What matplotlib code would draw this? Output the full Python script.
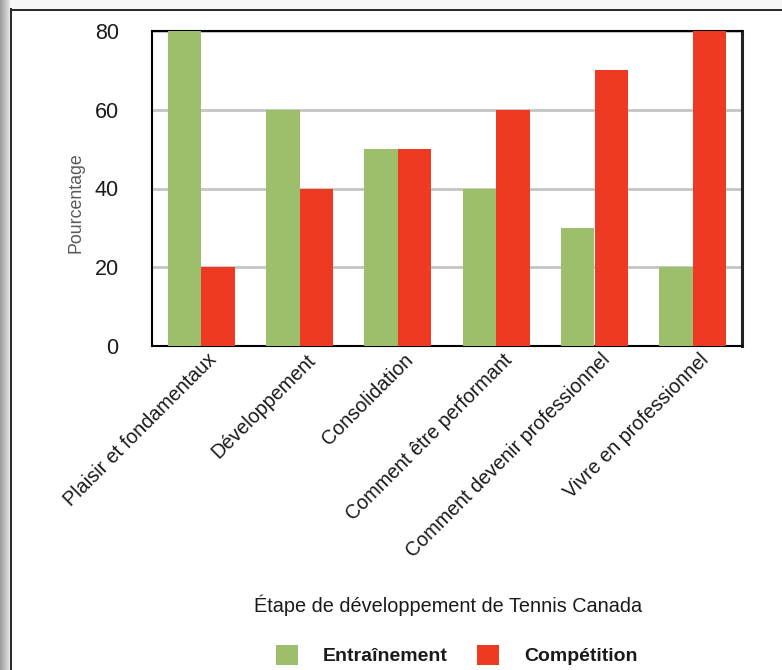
import matplotlib
matplotlib.use("Agg")
import matplotlib.pyplot as plt
import matplotlib.transforms as mtransforms
from matplotlib.patches import Rectangle, Patch
import numpy as np

categories = ["Plaisir et fondamentaux", "Développement", "Consolidation",
              "Comment être performant", "Comment devenir professionnel",
              "Vivre en professionnel"]
entrainement = [80, 60, 50, 40, 30, 20]
competition = [20, 40, 50, 60, 70, 80]
yticks = [0, 20, 40, 60, 80]

green = "#9dbf6b"
red = "#ee3a23"

plt.rcParams['font.family'] = ['Liberation Sans', 'DejaVu Sans']

W, H = 782, 670
fig = plt.figure(figsize=(W/100, H/100), dpi=100)

# outer frame decorations
fig.patches.append(Rectangle((0, 0), 1, 1, transform=fig.transFigure, facecolor="white", edgecolor="none", zorder=-10))
fig.patches.append(Rectangle((0, (H-9)/H), 1, 9/H, transform=fig.transFigure, facecolor="#f6f6f6", edgecolor="none", zorder=-9))
for i in range(10):
    g = 0.62 + 0.03*i
    fig.patches.append(Rectangle((i/W, 0), 1/W, 1, transform=fig.transFigure, facecolor=(g, g, g), edgecolor="none", zorder=-8))
fig.patches.append(Rectangle((10/W, 0), 2/W, (H-8)/H, transform=fig.transFigure, facecolor="#2a2a2a", edgecolor="none", zorder=-7))
fig.patches.append(Rectangle((10/W, (H-11)/H), 1-10/W, 2.5/H, transform=fig.transFigure, facecolor="#2a2a2a", edgecolor="none", zorder=-7))

left, right, top, bottom = 152, 742, 31, 346
ax = fig.add_axes([left/W, 1-bottom/H, (right-left)/W, (bottom-top)/H])

x = np.arange(len(categories))
bw = 0.34
ax.bar(x - bw/2, entrainement, bw, color=green, zorder=3)
ax.bar(x + bw/2, competition, bw, color=red, zorder=3)

ax.set_xlim(-0.5, len(categories)-0.5)
ax.set_ylim(0, 80)
ax.set_yticks(yticks)
ax.set_yticklabels([str(v) for v in yticks], fontsize=15.5, color="#1a1a1a")
ax.tick_params(axis='y', length=0, pad=24)
ax.yaxis.grid(True, color="#c4c4c4", linewidth=2, zorder=0)
ax.set_axisbelow(True)
ax.set_xticks(x)
ax.set_xticklabels(categories, rotation=45, ha='right', va='top', rotation_mode='anchor', fontsize=14.2, color="#1a1a1a")
ax.tick_params(axis='x', length=0, pad=3)
offset = mtransforms.ScaledTranslation(6/100, 0, fig.dpi_scale_trans)
for lbl in ax.get_xticklabels():
    lbl.set_transform(lbl.get_transform() + offset)
for s in ax.spines.values():
    s.set_color("black")
    s.set_linewidth(1.5)
ax.spines['right'].set_linewidth(2.2)
ax.spines['right'].set_color("#222222")

fig.text(76/W, 1-203/H, "Pourcentage", rotation=90, ha='center', va='center', fontsize=12.8, color="#5a5a5a")
fig.text(448/W, 1-605/H, "Étape de développement de Tennis Canada", ha='center', va='center', fontsize=14.3, color="#1a1a1a")

handles = [Patch(facecolor=green, edgecolor='none', label="Entraînement"),
           Patch(facecolor=red, edgecolor='none', label="Compétition")]
leg = fig.legend(handles=handles, loc='center', bbox_to_anchor=(457/W, 1-655/H), ncol=2, frameon=False,
                 prop={'weight': 'bold', 'size': 14}, handlelength=1.12, handleheight=1.2,
                 handletextpad=1.29, columnspacing=1.5)
for t in leg.get_texts():
    t.set_color("#1a1a1a")

fig.savefig("out.png", dpi=100)
